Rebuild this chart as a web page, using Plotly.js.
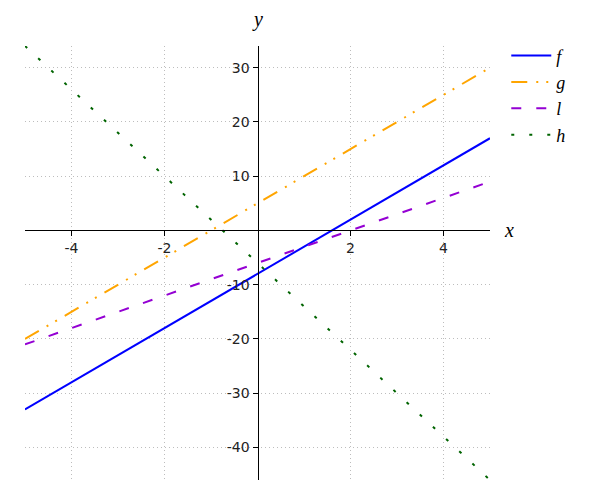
<!DOCTYPE html>
<html>
<head>
<meta charset="utf-8">
<script src="https://cdn.plot.ly/plotly-3.0.1.min.js"></script>
<style>html,body{margin:0;padding:0;background:#fff;}#chart{width:600px;height:500px;}</style>
</head>
<body>
<div id="chart"></div>
<script>
const xValues = [-5, 0, 5];
const fValues = [-33, -8, 17];
const gValues = [-20, 5, 30];
const lValues = [-21, -6, 9];
const hValues = [34, -6, -46];
const seriesNames = ['f', 'g', 'l', 'h'];
const xTicks = [-4, -2, 2, 4];
const yTicks = [-40, -30, -20, -10, 10, 20, 30];
const xRange = [-5, 5];
const yRange = [-46, 34];

const labelFont = {family: 'Liberation Serif, serif', size: 20, color: '#000', style: 'italic'};
const legendFont = {family: 'Liberation Serif, serif', size: 18, color: '#000', style: 'italic'};
const tickFont = {family: 'DejaVu Sans, sans-serif', size: 14, color: '#222'};

const traces = [
  {x: xValues, y: fValues, name: seriesNames[0], mode: 'lines', line: {color: '#0000ff', width: 2}},
  {x: xValues, y: gValues, name: seriesNames[1], mode: 'lines', line: {color: '#ffa500', width: 2, dash: '16px,9px,2px,8px,2px,9px'}},
  {x: xValues, y: lValues, name: seriesNames[2], mode: 'lines', line: {color: '#9400d3', width: 2, dash: '10px,15px'}},
  {x: xValues, y: hValues, name: seriesNames[3], mode: 'lines', line: {color: '#006400', width: 2, dash: '3px,15px'}}
];

const xZeroPos = (0 - yRange[0]) / (yRange[1] - yRange[0]);
const yZeroPos = (0 - xRange[0]) / (xRange[1] - xRange[0]);

const layout = {
  width: 600, height: 500,
  margin: {l: 25, r: 110, t: 46, b: 20},
  paper_bgcolor: '#fff', plot_bgcolor: '#fff',
  showlegend: true,
  legend: {x: 1.035, y: 1.02, xanchor: 'left', yanchor: 'top', font: legendFont, tracegroupgap: 0, itemwidth: 40, bgcolor: 'rgba(0,0,0,0)'},
  xaxis: {
    range: xRange, anchor: 'free', position: xZeroPos,
    tickvals: xTicks, ticktext: xTicks.map(String),
    showline: true, linecolor: '#000', linewidth: 1,
    ticks: 'outside', ticklen: 5, tickcolor: '#000', tickwidth: 1,
    tickfont: tickFont,
    showgrid: true, gridcolor: '#bdbdbd', griddash: '1px,3px', gridwidth: 1,
    zeroline: false
  },
  yaxis: {
    range: yRange, anchor: 'free', position: yZeroPos,
    tickvals: yTicks, ticktext: yTicks.map(String),
    showline: true, linecolor: '#000', linewidth: 1,
    ticks: 'outside', ticklen: 5, tickcolor: '#000', tickwidth: 1,
    tickfont: tickFont,
    showgrid: true, gridcolor: '#bdbdbd', griddash: '1px,3px', gridwidth: 1,
    zeroline: false
  },
  annotations: [
    {text: 'y', xref: 'x', yref: 'paper', x: 0, y: 1.03, xanchor: 'center', yanchor: 'bottom', showarrow: false, font: labelFont},
    {text: 'x', xref: 'paper', yref: 'y', x: 1.025, y: 0, xanchor: 'left', yanchor: 'middle', showarrow: false, font: labelFont}
  ]
};

Plotly.newPlot('chart', traces, layout, {displayModeBar: false, staticPlot: true});
</script>
</body>
</html>
